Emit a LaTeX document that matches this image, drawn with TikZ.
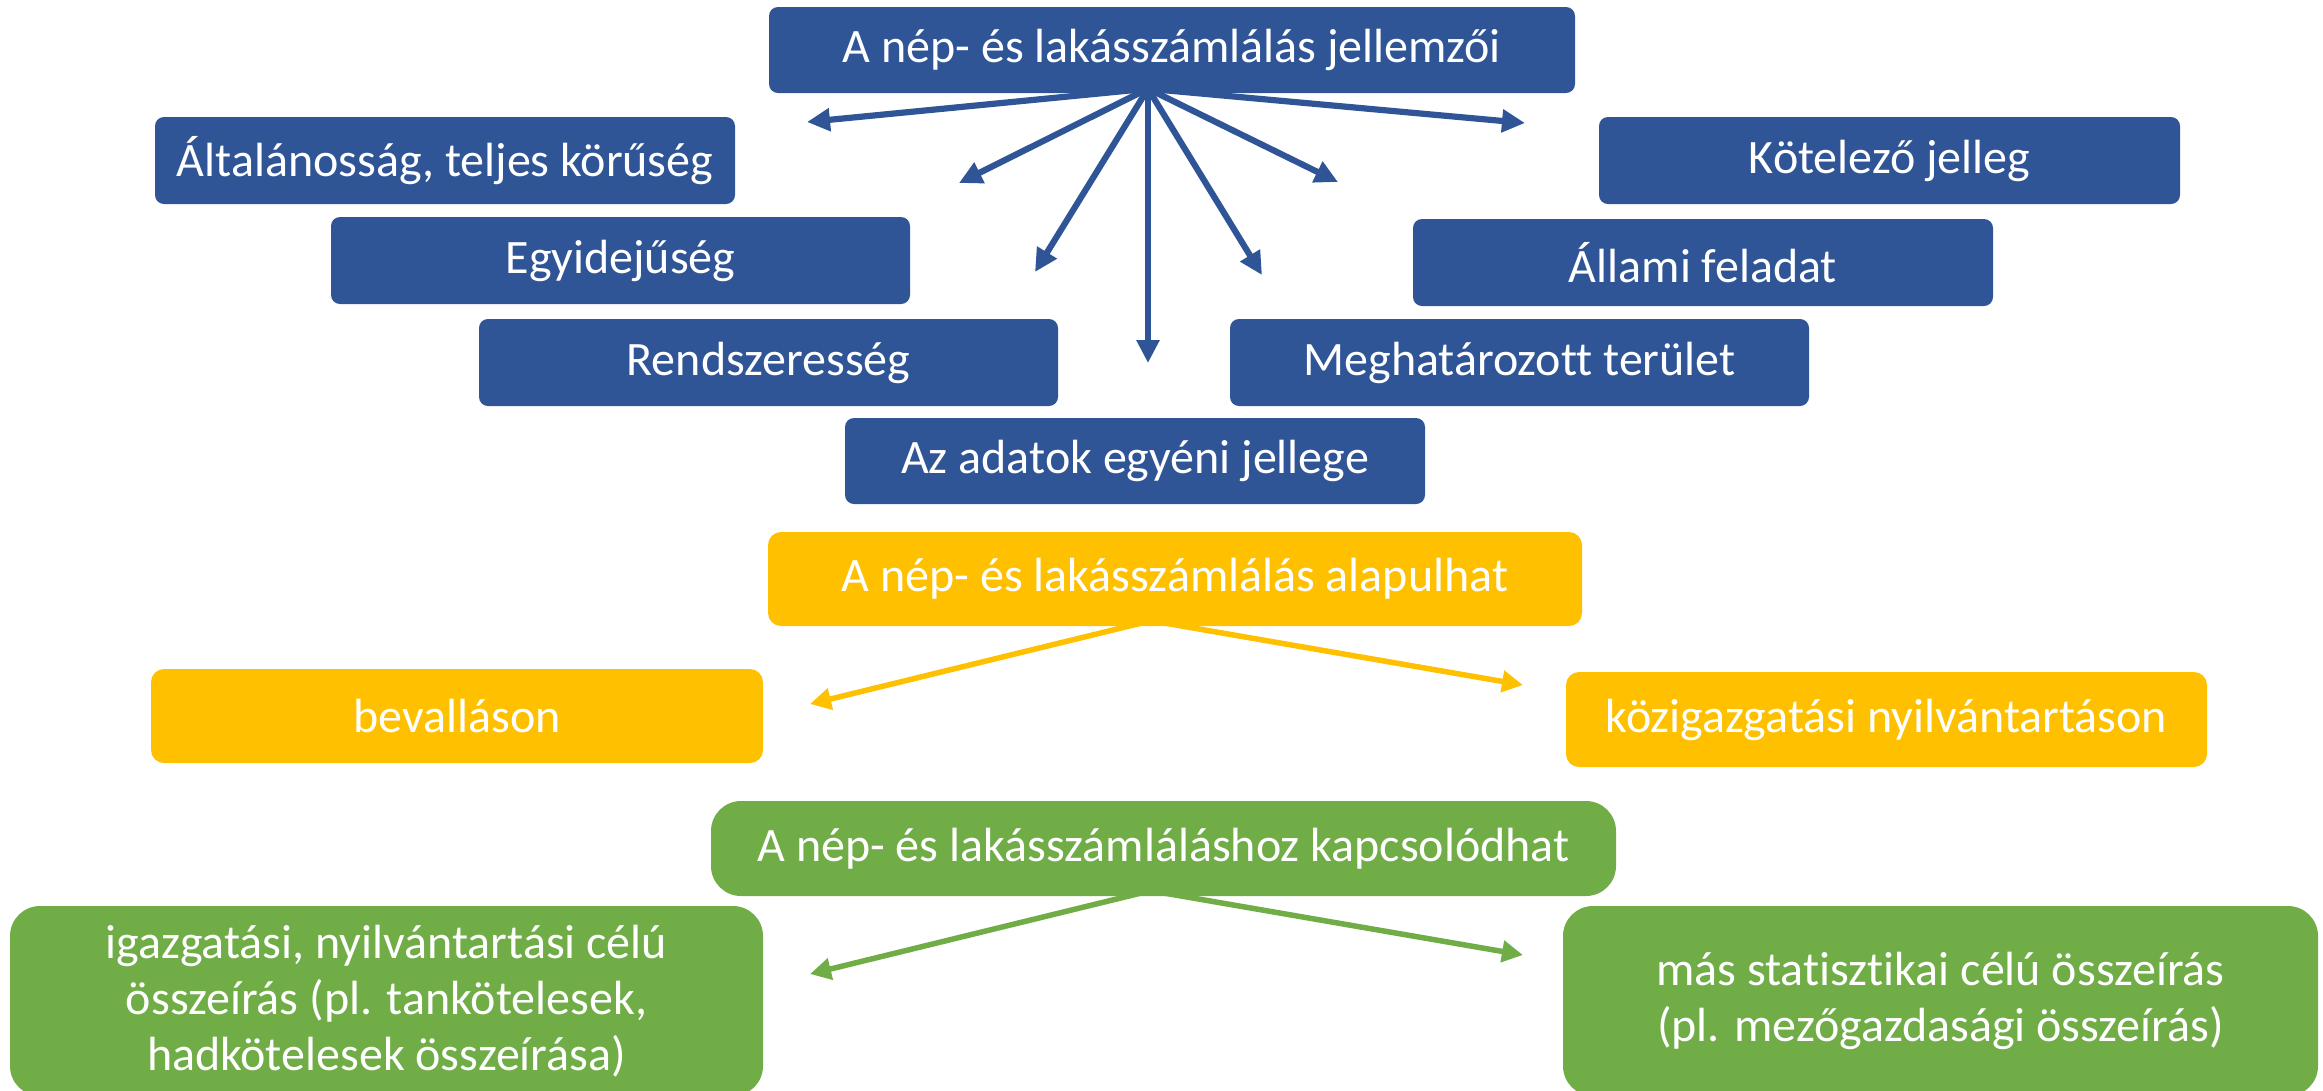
\documentclass[tikz,border=0pt]{standalone}
\usepackage{fontspec}
\setmainfont[Ligatures=NoCommon]{Carlito}
\usetikzlibrary{arrows.meta}
\definecolor{bblue}{HTML}{2F5597}
\definecolor{byellow}{HTML}{FFC000}
\definecolor{bgreen}{HTML}{70AD47}
\pgfdeclarelayer{bg}
\pgfsetlayers{bg,main}
\tikzset{
  bx/.style 2 args={minimum width=#1*0.01cm, minimum height=#2*0.01cm},
  card/.style={inner sep=0pt, text=white, align=center,
    font=\fontsize{13.65}{16}\selectfont},
  bluebox/.style={card, fill=bblue, rounded corners=0.09cm},
  yellowbox/.style={card, fill=byellow, rounded corners=0.13cm},
  greenbox/.style={card, fill=bgreen, rounded corners=0.3cm},
  barrow/.style={draw=bblue, line width=0.062cm, -{Triangle[length=0.23cm,width=0.22cm]}},
  yarrow/.style={draw=byellow, line width=0.055cm, -{Triangle[length=0.21cm,width=0.21cm]}},
  garrow/.style={draw=bgreen, line width=0.055cm, -{Triangle[length=0.21cm,width=0.21cm]}}
}
\begin{document}
\begin{tikzpicture}[x=0.01cm,y=-0.01cm]
\useasboundingbox (0,0) rectangle (2323,1090);
% blue section
\node[bluebox, bx={806}{86}] (title) at (1172,50) {A nép- és lakásszámlálás jellemzői};
\node[bluebox, bx={580}{87}] (alt) at (445,160.5) {Általánosság, teljes körűség};
\node[bluebox, bx={579}{87}] (egy) at (620.5,260.5) {Egyidejűség};
\node[bluebox, bx={579}{87}] (rend) at (768.5,362.5) {Rendszeresség};
\node[bluebox, bx={580}{86}] (adat) at (1135,461) {Az adatok egyéni jellege};
\node[bluebox, bx={579}{87}] (megh) at (1519.5,362.5) {Meghatározott terület};
\node[bluebox, bx={580}{87}] (allami) at (1703,262.5) {Állami feladat};
\node[bluebox, bx={581}{87}] (kot) at (1889.5,160.5) {Kötelező jelleg};
% yellow section
\node[yellowbox, bx={814}{94}] (ytop) at (1175,579) {A nép- és lakásszámlálás alapulhat};
\node[yellowbox, bx={612}{94}] (bev) at (457,716) {bevalláson};
\node[yellowbox, bx={641}{95}] (koz) at (1886.5,719.5) {közigazgatási nyilvántartáson};
% green section
\node[greenbox, bx={905}{95}] (gtop) at (1163.5,848.5) {A nép- és lakásszámláláshoz kapcsolódhat};
\node[greenbox, bx={753}{190}] (gl) at (386.5,1001) {igazgatási, nyilvántartási célú\\összeírás (pl. tankötelesek,\\hadkötelesek összeírása)};
\node[greenbox, bx={755}{190}] (gr) at (1940.5,1001) {más statisztikai célú összeírás\\(pl. mezőgazdasági összeírás)};
% connector coordinates
\coordinate (bo) at ([shift={(-24,-5)}]title.south);
\coordinate (b1) at (807,122);
\coordinate (b2) at (959,183);
\coordinate (b3) at (1035,272);
\coordinate (b4) at (1148,363);
\coordinate (b5) at (1262,275);
\coordinate (b6) at (1338,182);
\coordinate (b7) at (1525,123);
\coordinate (yo) at ([shift={(-24,-6)}]ytop.south);
\coordinate (y1) at (810,704);
\coordinate (y2) at (1523,685);
\coordinate (go) at ([shift={(-13,-6)}]gtop.south);
\coordinate (g1) at (810,974);
\coordinate (g2) at (1523,955);
\begin{pgfonlayer}{bg}
\foreach \t in {b1,b2,b3,b4,b5,b6,b7} \draw[barrow] (bo) -- (\t);
\draw[yarrow] (yo) -- (y1);
\draw[yarrow] (yo) -- (y2);
\draw[garrow] (go) -- (g1);
\draw[garrow] (go) -- (g2);
\end{pgfonlayer}
\end{tikzpicture}
\end{document}
